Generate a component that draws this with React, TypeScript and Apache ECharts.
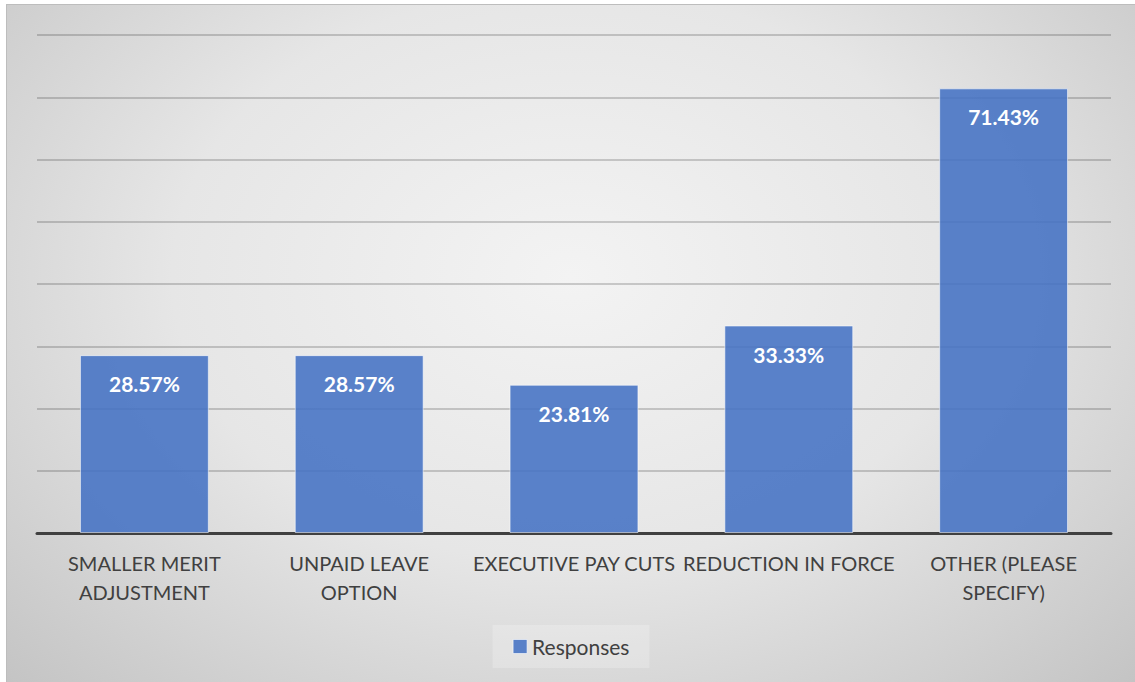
import React, { useEffect, useRef } from "react";
import * as echarts from "echarts";

const categories = [
  "SMALLER MERIT\nADJUSTMENT",
  "UNPAID LEAVE\nOPTION",
  "EXECUTIVE PAY CUTS",
  "REDUCTION IN FORCE",
  "OTHER (PLEASE\nSPECIFY)",
];
const responses = [28.57, 28.57, 23.81, 33.33, 71.43];
const seriesName = "Responses";

const FONT = "Lato, 'Open Sans', sans-serif";

export default function App() {
  const ref = useRef<HTMLDivElement>(null);

  useEffect(() => {
    if (!ref.current) return;
    const chart = echarts.init(ref.current, null, { renderer: "svg" });
    chart.setOption({
      animation: false,
      textStyle: { fontFamily: FONT },
      grid: { left: 30, right: 24, top: 30, bottom: 149, containLabel: false },
      legend: {
        data: [seriesName],
        bottom: 14,
        left: "center",
        itemWidth: 14,
        itemHeight: 14,
        itemGap: 10,
        padding: [11, 20, 11, 20],
        backgroundColor: "rgba(255,255,255,0.22)",
        icon: "rect",
        textStyle: { fontSize: 21, color: "#404040", fontFamily: FONT },
        itemStyle: { borderColor: "rgba(255,255,255,0.6)", borderWidth: 1 },
      },
      xAxis: {
        type: "category",
        data: categories,
        axisLine: { lineStyle: { color: "#404040", width: 3 } },
        axisTick: { show: false },
        axisLabel: {
          interval: 0,
          margin: 15,
          fontSize: 20,
          lineHeight: 29,
          color: "#404040",
          fontFamily: FONT,
        },
      },
      yAxis: {
        type: "value",
        min: 0,
        max: 80,
        interval: 10,
        axisLabel: { show: false },
        axisLine: { show: false },
        axisTick: { show: false },
        splitLine: { lineStyle: { color: "rgba(0,0,0,0.24)", width: 1.5 } },
      },
      series: [
        {
          name: seriesName,
          type: "bar",
          data: responses,
          barWidth: "60%",
          itemStyle: {
            color: "rgba(68,114,196,0.88)",
            borderColor: "rgba(255,255,255,0.55)",
            borderWidth: 1,
          },
          label: {
            show: true,
            position: "insideTop",
            distance: 18,
            color: "#ffffff",
            fontWeight: "bold",
            fontSize: 21,
            fontFamily: FONT,
            formatter: (p: any) => `${Number(p.value).toFixed(2)}%`,
          },
        },
      ],
    });
    return () => chart.dispose();
  }, []);

  return (
    <div
      style={{
        position: "absolute",
        left: 6,
        top: 4,
        width: 1129,
        height: 678,
        boxSizing: "border-box",
        borderTop: "1.5px solid #bdbdbd",
        borderLeft: "1.5px solid #bdbdbd",
        background:
          "radial-gradient(ellipse farthest-corner at 50% 40%, #f3f3f3 0%, #e6e6e6 50%, #c4c4c4 100%)",
      }}
    >
      <div ref={ref} style={{ width: "100%", height: "100%" }} />
    </div>
  );
}
